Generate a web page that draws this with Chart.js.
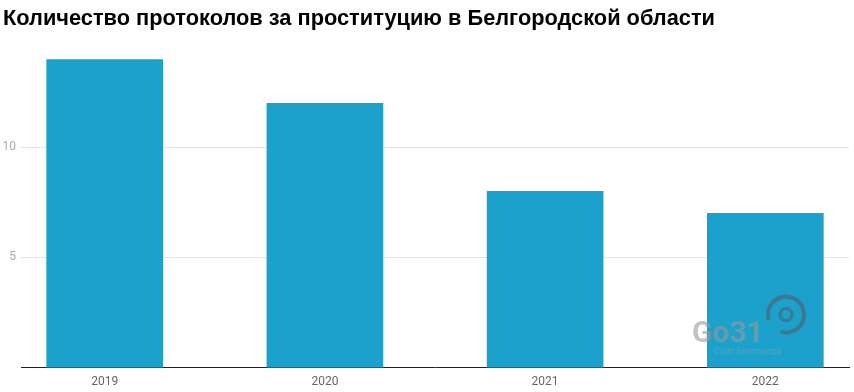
<!DOCTYPE html>
<html><head><meta charset="utf-8">
<script src="https://cdn.jsdelivr.net/npm/chart.js@4"></script>
<style>html,body{margin:0;padding:0;background:#fff}#wrap{width:854px;height:392px;position:relative}</style>
</head><body><div id="wrap"><canvas id="c" width="854" height="392"></canvas></div>
<script>
const years = ['2019','2020','2021','2022'];
const protocols = [14, 12, 8, 7];
const yTicks = [5, 10];
const titleText = 'Количество протоколов за проституцию в Белгородской области';

const watermark = {
  id: 'watermark',
  afterDatasetsDraw(chart) {
    const ctx = chart.ctx, a = chart.chartArea;
    ctx.save();
    ctx.globalAlpha = 0.6;
    ctx.fillStyle = '#9a9a9a';
    ctx.font = 'bold 30px Roboto, sans-serif';
    ctx.textBaseline = 'alphabetic';
    ctx.fillText('Go31', a.right - 157, a.bottom - 26);
    ctx.font = '9px Roboto, sans-serif';
    ctx.fillText('Сайт Белгорода', a.right - 135, a.bottom - 14);
    ctx.strokeStyle = '#555f66';
    ctx.lineWidth = 4;
    ctx.beginPath();
    ctx.arc(a.right - 63, a.bottom - 53, 18, Math.PI * 0.9, Math.PI * 2.6);
    ctx.stroke();
    ctx.lineWidth = 3;
    ctx.beginPath();
    ctx.arc(a.right - 63, a.bottom - 53, 6, 0, Math.PI * 2);
    ctx.stroke();
    ctx.restore();
  }
};

new Chart(document.getElementById('c'), {
  type: 'bar',
  data: {
    datasets: [{
      data: years.map((y, i) => ({x: i, y: protocols[i]})),
      backgroundColor: '#1ba1cb',
      barThickness: 116
    }]
  },
  options: {
    responsive: false,
    animation: false,
    layout: {padding: {left: 3, right: 5, top: 0, bottom: -4}},
    plugins: {
      legend: {display: false},
      tooltip: {enabled: false},
      title: {
        display: true, text: titleText, align: 'start', color: '#000',
        font: {family: 'Liberation Sans, Arial, sans-serif', size: 21.8, weight: 'bold', lineHeight: 1.2},
        padding: {top: 6, bottom: 27}
      }
    },
    scales: {
      x: {
        type: 'linear', min: -0.38, max: 3.38, offset: false,
        afterBuildTicks: s => { s.ticks = years.map((_, i) => ({value: i})); },
        ticks: {callback: v => years[v], color: '#666', font: {family: 'Roboto, sans-serif', size: 12}, padding: 7, autoSkip: false, maxRotation: 0},
        grid: {display: false, drawTicks: false},
        border: {display: true, color: '#222', width: 1}
      },
      y: {
        min: 0, max: 14,
        afterBuildTicks: s => { s.ticks = yTicks.map(v => ({value: v})); },
        afterFit: s => { s.width = 18; },
        ticks: {color: '#aaa', font: {family: 'Roboto, sans-serif', size: 12}, padding: 5},
        grid: {color: '#e6e6e6', drawTicks: false},
        border: {display: false}
      }
    }
  },
  plugins: [watermark]
});
</script></body></html>
